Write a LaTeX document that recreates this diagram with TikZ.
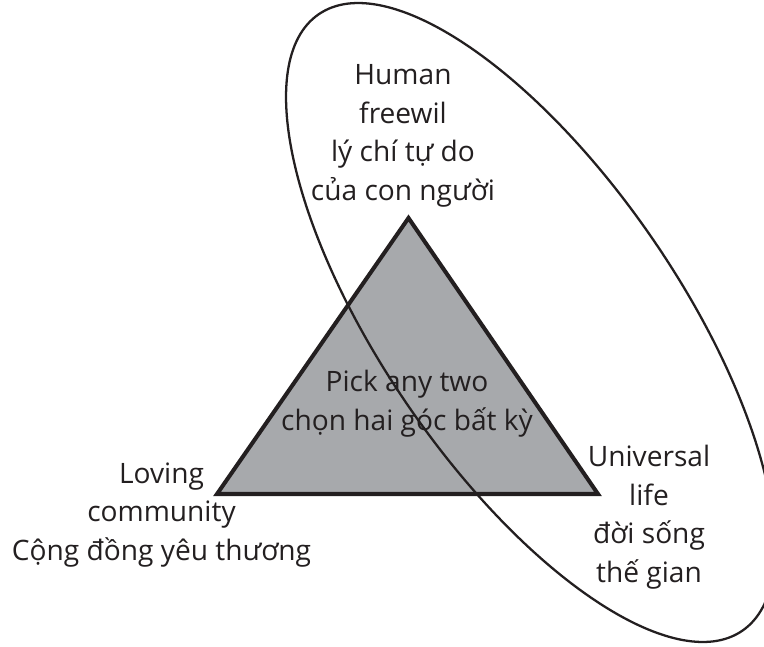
\documentclass[tikz,border=0pt]{standalone}
\usepackage{fontspec}
\setmainfont{Open Sans}
\usepackage{xcolor}
\usepackage{tikz}
\definecolor{trigray}{HTML}{A7A9AC}
\definecolor{inkblack}{HTML}{231F20}

\begin{document}
\begin{tikzpicture}[cornertext/.style={text=inkblack,align=center,inner sep=0pt,anchor=base,font=\fontsize{16}{21.9}\selectfont}]
                \useasboundingbox (0,0) rectangle (15.28,12.92);
                \draw[line width=2.3pt,fill=trigray,draw=inkblack] (8.17,8.56) coordinate (will) -- (4.34,3.04) coordinate (love) -- (11.96,3.04) coordinate (life) -- cycle;
                \node[cornertext] (willtext) at (8.06,8.92) {Human\\freewil\\lý chí tự do\\của con người};
                \node[cornertext] (lovetext) at (3.23,1.72) {Loving\\community\\Cộng đồng yêu thương};
                \node[cornertext] (lifetext) at (12.98,1.28) {Universal\\life\\đời sống\\thế gian};
                \node[cornertext] (pick) at (8.14,4.32) {Pick any two\\chọn hai góc bất kỳ};
                \draw[line width=1.3pt,draw=inkblack] (10.61,6.47) ellipse [x radius=7.48, y radius=2.96, rotate=-55.5];
\end{tikzpicture}
\end{document}
